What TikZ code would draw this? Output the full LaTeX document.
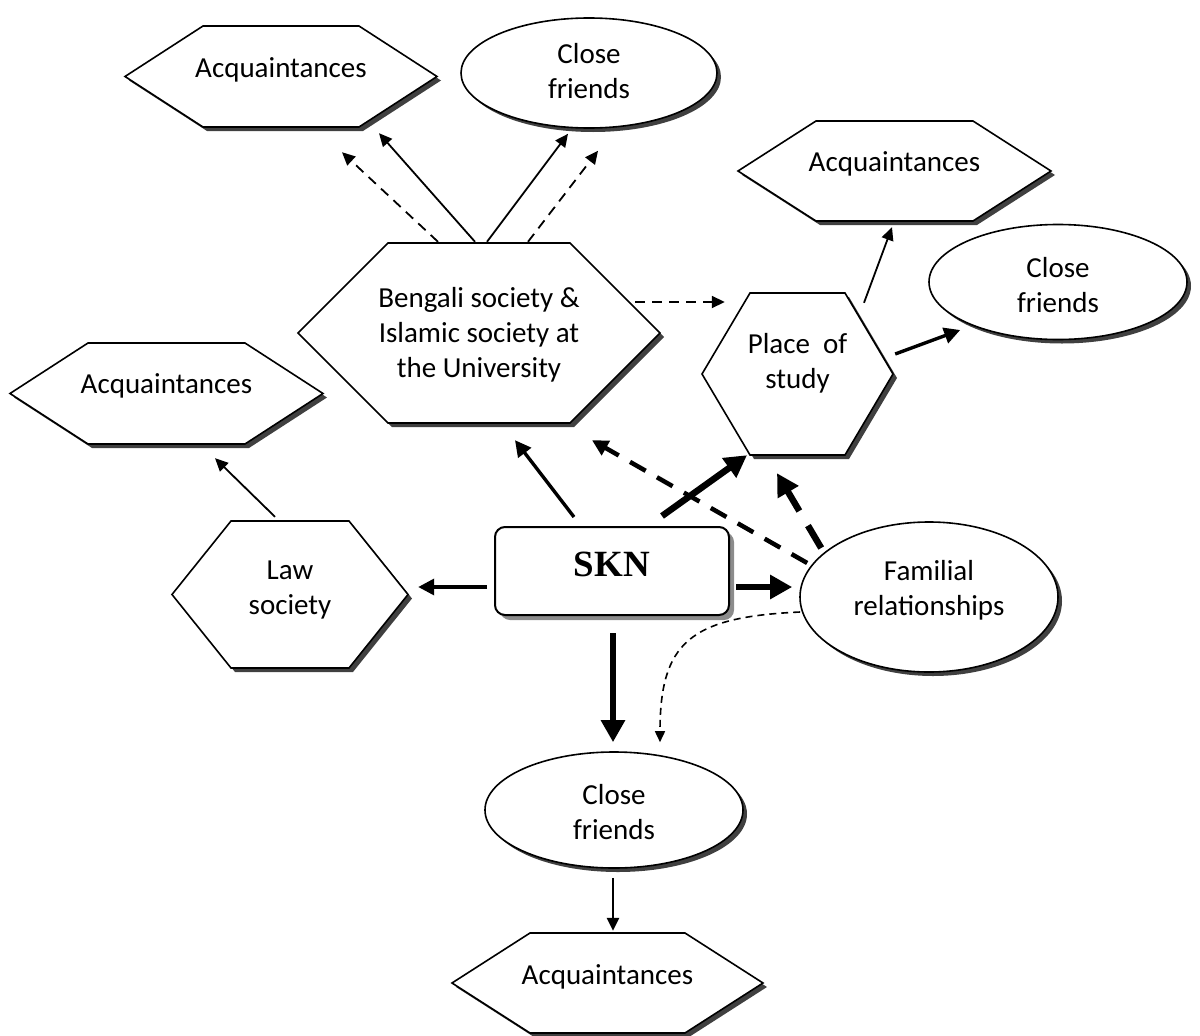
\documentclass[tikz,border=0pt]{standalone}
\usepackage{fontspec}
\setmainfont{Carlito}
\newfontfamily\sknfont{Liberation Serif}
\usetikzlibrary{arrows.meta,shapes.geometric,shadows}
\definecolor{shadowgray}{HTML}{404040}
\definecolor{sknshadow}{HTML}{8C8C8C}
\tikzset{
  outline/.style={draw=black, line width=1.6pt, fill=white},
  oval/.style={outline, ellipse, inner sep=0pt,
    drop shadow={shadow xshift=4pt, shadow yshift=-4pt, fill=shadowgray, opacity=1}},
  txt/.style={align=center, inner sep=0pt, font=\fontsize{29}{35}\selectfont},
  thinarr/.style={line width=1.8pt, -{Triangle[length=13pt,width=12pt]}},
  midarr/.style={line width=3.4pt, -{Triangle[length=16pt,width=16pt]}},
  fatarr/.style={line width=6.5pt, -{Triangle[length=22pt,width=23pt]}},
  dashthin/.style={dash pattern=on 10pt off 7pt},
  dashmid/.style={line width=4.5pt, dash pattern=on 18pt off 13pt},
  dashfat/.style={dash pattern=on 26pt off 17pt},
  dashfine/.style={line width=1.6pt, dash pattern=on 7pt off 5pt,
    -{Triangle[length=11pt,width=10pt]}}
}
\begin{document}
\begin{tikzpicture}[x=1pt, y=-1pt]
\useasboundingbox (0,0) rectangle (1200,1036);
% hexagons: name/centre x/centre y/half width/half height/inset
\foreach \n/\x/\y/\w/\h/\i in {acqA/281/76.5/156/50.5/78, acqB/894.5/171/156.5/50/78,
  bengali/479/333/181/90/90, place/797.5/374/95.5/81/48, acqC/166.5/393.5/156.5/50.5/78,
  law/290/594.5/118/73.5/59, acqD/607.5/983/155.5/50/78}{
  \def\hexa{(\x-\w,\y) -- ++(\i,-\h) -- ++(2*\w-2*\i,0) -- ++(\i,\h)
    -- ++(-\i,\h) -- ++(-2*\w+2*\i,0) -- cycle}
  \fill[shadowgray, shift={(4,4)}] \hexa;
  \path[outline] \hexa;
  \node[minimum width=2*\w, minimum height=2*\h, inner sep=0pt] (\n) at (\x,\y) {};
}
% ovals and the centre box
\node[oval, minimum width=256, minimum height=110] (cfA) at (589,73) {};
\node[oval, minimum width=258, minimum height=115] (cfB) at (1058,282) {};
\node[oval, minimum width=258, minimum height=150] (family) at (929,597) {};
\node[oval, minimum width=258, minimum height=116] (cfC) at (614,810) {};
\node[outline, rounded corners=10pt, line width=2pt, minimum width=234, minimum height=88,
  drop shadow={shadow xshift=5pt, shadow yshift=-5pt, fill=sknshadow, opacity=1}] (skn) at (612,571) {};
% texts
\foreach \n/\dy/\t in {acqA/-6.5/Acquaintances, cfA/-1.5/{Close\\friends},
  acqB/-7/Acquaintances, cfB/3.5/{Close\\friends},
  bengali/2/{Bengali society \&\\Islamic society at\\the University},
  place/-10.5/{Place\ \ of\\study}, acqC/-7.5/Acquaintances, law/-4/{Law\\society},
  family/-7/{Familial\\relationships}, cfC/2.5/{Close\\friends}, acqD/-6/Acquaintances}
  \node[txt] (\n-t) at ([shift={(0,\dy)}]\n.center) {\t};
\node[inner sep=0pt, font=\sknfont\bfseries\fontsize{37}{40}\selectfont] (skn-t)
  at ([shift={(0,-7)}]skn.center) {SKN};
% connectors
\draw[thinarr] ([shift={(-4,-1)}]bengali.north) -- ([shift={(98,6)}]acqA.south);
\draw[thinarr, dashthin] ([shift={(-41,-1)}]bengali.north) -- ([shift={(61,25)}]acqA.south);
\draw[thinarr] ([shift={(8,-1)}]bengali.north) -- ([shift={(-21,5)}]cfA.south);
\draw[thinarr, dashthin] ([shift={(49,-1)}]bengali.north) -- ([shift={(9,22)}]cfA.south);
\draw[thinarr, dashthin] ([shift={(-25,-31)}]bengali.east) -- ([shift={(23,-72)}]place.west);
\draw[thinarr] ([shift={(66.5,10)}]place.north) -- ([shift={(-2.5,6)}]acqB.south);
\draw[midarr] ([shift={(2,-20)}]place.east) -- ([shift={(32,48)}]cfB.west);
\draw[thinarr] ([shift={(-15,-4)}]law.north) -- ([shift={(48.5,14)}]acqC.south);
\draw[midarr] ([shift={(-38,-9)}]skn.north) -- ([shift={(36,17)}]bengali.south);
\draw[fatarr] ([shift={(50,-10)}]skn.north) -- ([shift={(-50.5,0)}]place.south);
\draw[midarr, dashmid] ([shift={(8,-34)}]family.west) -- ([shift={(113,17)}]bengali.south);
\draw[fatarr, dashfat] ([shift={(22,-49)}]family.west) -- ([shift={(-20.5,18)}]place.south);
\draw[midarr] ([shift={(-7,16)}]skn.west) -- ([shift={(10,-7.5)}]law.east);
\draw[fatarr] ([shift={(6,16)}]skn.east) -- ([shift={(-7,-10)}]family.west);
\draw[fatarr] ([shift={(1,17)}]skn.south) -- ([shift={(-1,-9)}]cfC.north);
\draw[dashfine] ([shift={(1,15)}]family.west) .. controls +(-110,5) and +(0,-100) .. ([shift={(46,-9)}]cfC.north);
\draw[thinarr, line width=2.6pt] ([shift={(-1,9)}]cfC.south) -- ([shift={(5.5,-2)}]acqD.north);
\end{tikzpicture}
\end{document}
